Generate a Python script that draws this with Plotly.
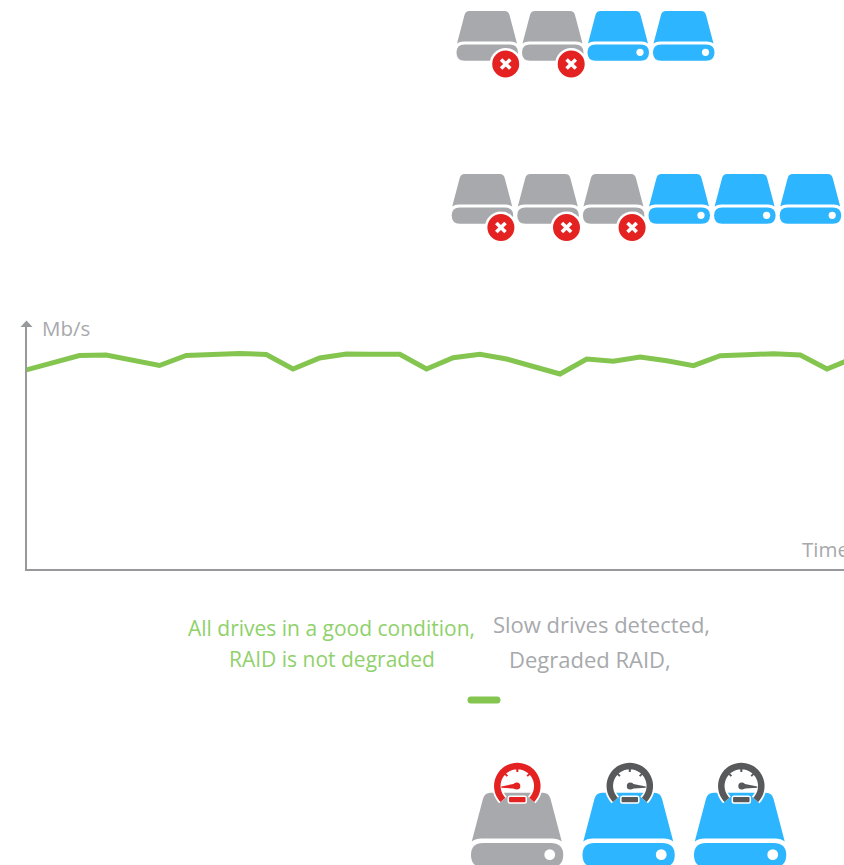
import math
import plotly.graph_objects as go

# ---- data ----
time_index = list(range(32))
throughput_mbs = [100, 103.75, 107.25, 107.5, 105, 102.25, 107.25, 107.5, 108.25, 107.75,
                  100.5, 106, 108, 107.85, 107.85, 100.5, 106.15, 107.85, 105.5, 101.75,
                  98, 105.5, 104.35, 106.5, 104.65, 102.15, 107.15, 107.6, 108.15, 107.5,
                  100.5, 106]
row_1_failed = [True, True, False, False]
row_2_failed = [True, True, True, False, False, False]
row_3_failed = [True, False, False]

W, H = 844, 865
GREEN = "#84C550"
GREEN_TEXT = "#8FD16B"
GRAY = "#A7A9AC"
AXIS = "#97999C"
BLUE = "#2DB6FF"
RED = "#E32221"
DARK = "#58595B"

def X(v): return round(v / W, 6)
def Y(v): return round(1 - v / H, 6)

def pth(cmds):
    out = []
    for c in cmds:
        if isinstance(c, str):
            out.append(c)
        else:
            out.append(f"{X(c[0])},{Y(c[1])}")
    return " ".join(out)

shapes = []

def add_path(cmds, fill=None, line=None, lw=0):
    shapes.append(dict(type="path", xref="paper", yref="paper", path=pth(cmds),
                       fillcolor=fill or "rgba(0,0,0,0)",
                       line=dict(color=line or "rgba(0,0,0,0)", width=lw)))

def add_circle(cx, cy, r, fill):
    shapes.append(dict(type="circle", xref="paper", yref="paper",
                       x0=X(cx - r), x1=X(cx + r), y0=Y(cy + r), y1=Y(cy - r),
                       fillcolor=fill, line=dict(width=0)))

def drive(left, top, color, s=1.0):
    p = lambda x, y: (left + x * s, top + y * s)
    add_path(["M", p(0.5, 32.5), "L", p(8, 4), "Q", p(9, 0), p(13, 0), "L", p(48, 0),
              "Q", p(52, 0), p(53, 4), "L", p(60.5, 32.5), "Q", p(58, 30.5), p(54, 30.5),
              "L", p(7, 30.5), "Q", p(3, 30.5), p(0.5, 32.5), "Z"], fill=color)
    add_path(["M", p(8, 33.5), "L", p(53, 33.5), "Q", p(61.5, 33.5), p(61.5, 41.5),
              "Q", p(61.5, 49.7), p(53, 49.7), "L", p(8, 49.7), "Q", p(0, 49.7), p(0, 41.5),
              "Q", p(0, 33.5), p(8, 33.5), "Z"], fill=color)
    cx, cy = p(52.5, 41.3)
    add_circle(cx, cy, 3.6 * s, "white")

def badge(cx, cy):
    add_circle(cx, cy, 16, "white")
    add_circle(cx, cy, 13.5, RED)
    for sx in (1, -1):
        add_path(["M", (cx - 4.6 * sx, cy - 4.6), "L", (cx + 4.6 * sx, cy + 4.6)], line="white", lw=3.6)

def arc_points(cx, cy, r, a0, a1, n=40):
    pts = []
    for i in range(n + 1):
        a = math.radians(a0 + (a1 - a0) * i / n)
        pts.append((cx + r * math.cos(a), cy - r * math.sin(a)))
    return pts

def gauge(cx, cy, color, tip_dir):
    pts = arc_points(cx, cy, 20, 224, -44)
    cmds = ["M", pts[0]]
    for q in pts[1:]:
        cmds += ["L", q]
    add_path(cmds, line="white", lw=10)
    add_path(cmds, line=color, lw=6.5)
    for a in (135, 90, 45):
        r0, r1 = 17.5, 14
        ca, sa = math.cos(math.radians(a)), math.sin(math.radians(a))
        add_path(["M", (cx + r0 * ca, cy - r0 * sa), "L", (cx + r1 * ca, cy - r1 * sa)], line=color, lw=2)
    add_circle(cx + 0.5 * tip_dir, cy, 3.5, color)
    add_path(["M", (cx, cy - 2.8), "L", (cx + 16 * tip_dir, cy + 0.4), "L", (cx + 16 * tip_dir, cy + 1.8),
              "L", (cx, cy + 2.8), "Z"], fill=color)
    add_path(["M", (cx - 7.5, cy + 10.2), "L", (cx + 7.5, cy + 10.2), "Q", (cx + 9, cy + 10.2), (cx + 9, cy + 12),
              "L", (cx + 9, cy + 15), "Q", (cx + 9, cy + 17), (cx + 7.5, cy + 17), "L", (cx - 7.5, cy + 17),
              "Q", (cx - 9, cy + 17), (cx - 9, cy + 15), "L", (cx - 9, cy + 12), "Q", (cx - 9, cy + 10.2),
              (cx - 7.5, cy + 10.2), "Z"], fill=color, line="white", lw=1.5)

# drive rows
for i, failed in enumerate(row_1_failed):
    drive(456.5 + 65.5 * i, 11, GRAY if failed else BLUE)
for i, failed in enumerate(row_1_failed):
    if failed:
        badge(456.5 + 65.5 * i + 49.2, 64)
for i, failed in enumerate(row_2_failed):
    drive(451.7 + 65.6 * i, 174, GRAY if failed else BLUE)
for i, failed in enumerate(row_2_failed):
    if failed:
        badge(451.7 + 65.6 * i + 49.2, 227.5)

for i, failed in enumerate(row_3_failed):
    left = 471 + 111.5 * i
    drive(left, 792.7, GRAY if failed else BLUE, s=1.5)
    gauge(left + 46.3 - (0 if failed else -1), 786, RED if failed else DARK, -1 if failed else 1)

# axis arrow head
add_path(["M", (26.5, 320.5), "L", (32.5, 327), "L", (20.5, 327), "Z"], fill=AXIS)
# legend dash
add_path(["M", (471, 696.5), "L", (497, 696.5), "Q", (500.5, 696.5), (500.5, 700), "Q", (500.5, 703.5), (497, 703.5),
          "L", (471, 703.5), "Q", (467.5, 703.5), (467.5, 700), "Q", (467.5, 696.5), (471, 696.5), "Z"], fill=GREEN)

def note(text, x, y, color, size, anchor="center", family="Open Sans"):
    return dict(text=text, x=X(x), y=Y(y), xref="paper", yref="paper", showarrow=False,
                xanchor=anchor, yanchor="middle", font=dict(family=family, size=size, color=color))

annotations = [
    note("Mb/s", 39.5, 328, GRAY, 20.5, "left"),
    note("Time", 800, 549, GRAY, 20.5, "left"),
    note("All drives in a good condition,", 331.5, 628, GREEN_TEXT, 21),
    note("RAID is not degraded", 331.5, 659, GREEN_TEXT, 21),
    note("Slow drives detected,", 602, 624, GRAY, 22),
    note("Degraded RAID,", 589.5, 659, GRAY, 22),
]

fig = go.Figure(go.Scatter(x=time_index, y=throughput_mbs, mode="lines",
                           line=dict(color=GREEN, width=5), hoverinfo="skip"))
fig.update_layout(
    width=W, height=H, margin=dict(l=0, r=0, t=0, b=0),
    paper_bgcolor="white", plot_bgcolor="white", showlegend=False,
    shapes=shapes, annotations=annotations,
    xaxis=dict(domain=[27 / W, 1], range=[1 / 26.7, (W - 26) / 26.7], showgrid=False, zeroline=False,
               showticklabels=False, ticks="", showline=True, linecolor=AXIS, linewidth=2),
    yaxis=dict(domain=[(H - 569) / H, (H - 322) / H], range=[0.5, (570 - 322) / 2], showgrid=False,
               zeroline=False, showticklabels=False, ticks="", showline=True, linecolor=AXIS, linewidth=2),
)
fig.write_html("out.html", config=dict(displayModeBar=False),
               post_script="document.body.style.margin='0';document.body.style.overflow='hidden';")
